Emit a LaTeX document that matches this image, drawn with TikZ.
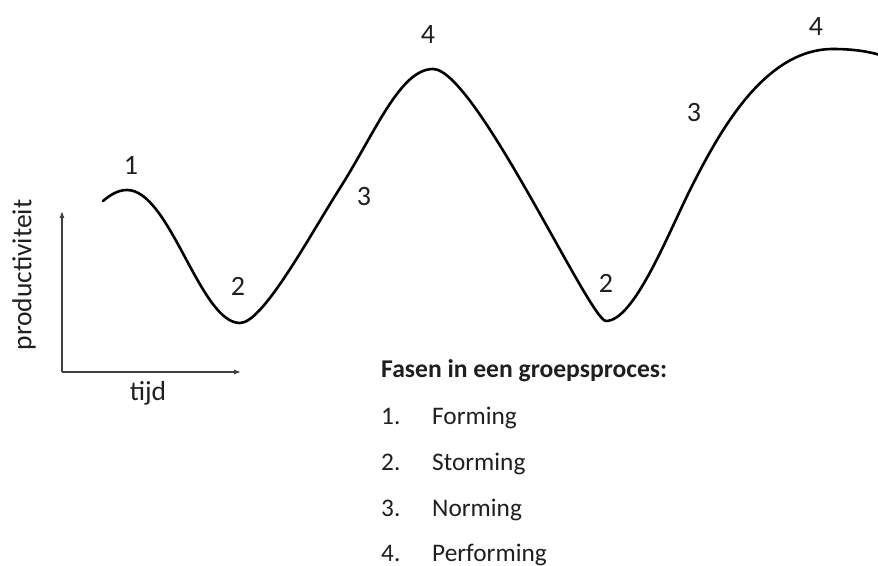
\documentclass[tikz,border=0pt]{standalone}
\usepackage{fontspec}
\setmainfont{Carlito}
\usetikzlibrary{arrows.meta}
\begin{document}
\begin{tikzpicture}[x=1pt,y=-1pt,
  axis/.style={draw=black!75,line width=1.1pt,-{Latex[length=7pt,width=5pt]}},
  curve/.style={draw=black,line width=2.6pt,line cap=round,line join=round},
  phase/.style={font=\fontsize{28}{31}\selectfont,text=black!88,inner sep=0pt},
  axlabel/.style={font=\fontsize{27.5}{30}\selectfont,text=black!88,inner sep=0pt},
  listtext/.style={font=\fontsize{25.3}{28}\selectfont,text=black!88,inner sep=0pt,anchor=base west}]
\useasboundingbox (0,0) rectangle (878,565);
% axes
\coordinate (O) at (62,372);
\coordinate (ytop) at (62,211);
\coordinate (xend) at (241,372);
\draw[axis] (O) -- (ytop);
\draw[axis] (O) -- (xend);
\node[axlabel,rotate=90] (ylab) at (24,275) {productiviteit};
\node[axlabel] (xlab) at (148,393) {tijd};
% curve
\coordinate (s) at (103,201);
\coordinate (p1) at (127,190);
\coordinate (m1) at (240,323);
\coordinate (r1) at (340,188);
\coordinate (p2) at (433,69);
\coordinate (m2) at (606,321);
\coordinate (r2) at (690,190);
\coordinate (p3) at (833,49);
\coordinate (e) at (880,55);
\draw[curve] (s) .. controls (110,195) and (118,190) .. (p1)
  .. controls (170,190) and (200,323) .. (m1)
  .. controls (263,323) and (310,235) .. (r1)
  .. controls (375,133) and (400,69) .. (p2)
  .. controls (475,69) and (590,321) .. (m2)
  .. controls (634,321) and (668,234) .. (r2)
  .. controls (720,130) and (765,49) .. (p3)
  .. controls (855,49) and (870,52) .. (e);
% phase labels
\node[phase] (l1) at (131,165) {1};
\node[phase] (l2a) at (238,286) {2};
\node[phase] (l3a) at (364,197) {3};
\node[phase] (l4a) at (428,35) {4};
\node[phase] (l2b) at (606,283) {2};
\node[phase] (l3b) at (694,113) {3};
\node[phase] (l4b) at (816,27) {4};
% legend
\node[listtext,font=\fontsize{25.6}{28}\selectfont\bfseries] (head) at (381,377) {Fasen in een groepsproces:};
\node[listtext] (n1) at (381,424) {1.};
\node[listtext] (t1) at (432,424) {Forming};
\node[listtext] (n2) at (381,470) {2.};
\node[listtext] (t2) at (432,470) {Storming};
\node[listtext] (n3) at (381,516) {3.};
\node[listtext] (t3) at (432,516) {Norming};
\node[listtext] (n4) at (381,561) {4.};
\node[listtext] (t4) at (432,561) {Performing};
\end{tikzpicture}
\end{document}
